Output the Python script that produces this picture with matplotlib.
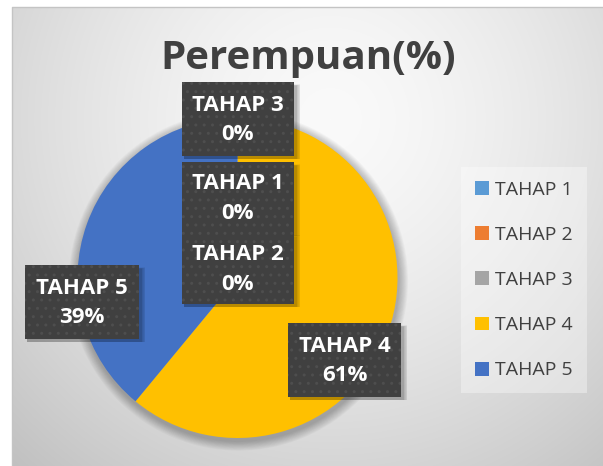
import numpy as np
import matplotlib
matplotlib.use("Agg")
import matplotlib.pyplot as plt
from matplotlib.patches import Rectangle, Circle

# --- data ---
categories = ['TAHAP 1', 'TAHAP 2', 'TAHAP 3', 'TAHAP 4', 'TAHAP 5']
values = [0, 0, 0, 61, 39]
colors = ['#5B9BD5', '#ED7D31', '#A5A5A5', '#FFC000', '#4472C4']
title = 'Perempuan(%)'

plt.rcParams['font.family'] = ['Open Sans', 'DejaVu Sans']

W, H = 603, 466
fig = plt.figure(figsize=(W / 100, H / 100), dpi=100)
fig.patch.set_facecolor('white')
ax = fig.add_axes([0, 0, 1, 1])

# chart area background (radial gradient, Excel style)
x0, y0 = 12, 0          # left / bottom of chart area (pixels, y up)
x1, y1 = W, H - 7
gx, gy = np.meshgrid(np.arange(x0, x1), np.arange(y0, y1))
d = np.hypot(gx - 330, gy - (H - 120))
grad = 250 - 58 * (d / 470) ** 1.5
grad = np.clip(grad, 0, 255) / 255
ax.imshow(np.dstack([grad] * 3), extent=(x0, x1, y0, y1), origin='lower',
          zorder=0, interpolation='bilinear')
ax.plot([x0, x0, x1], [y0, y1, y1], color='#c4c4c4', lw=1, zorder=1)

# pie
cx, cy, R = 237.5, H - 278, 160
for k in range(12, 0, -1):
    ax.add_patch(Circle((cx + 1, cy - 3), R + k * 0.8, color='black',
                        alpha=0.025, lw=0, zorder=1.5))
wedges, _ = ax.pie(values, colors=colors, startangle=90, counterclock=False,
                   center=(cx, cy), radius=R, wedgeprops=dict(linewidth=0))
for w in wedges:
    w.set_zorder(2)

# data label boxes (left, top, right, bottom in pixels from top-left)
label_boxes = {
    2: (182, 82, 294, 156),
    0: (182, 162, 294, 233),
    1: (182, 233, 294, 304),
    4: (25, 265, 139, 339),
    3: (288, 323, 401, 397),
}
total = sum(values)
for i, (l, t, r, b) in label_boxes.items():
    bw, bh = r - l, b - t
    yb = H - b
    for k in range(6, 0, -1):
        ax.add_patch(Rectangle((l + 2, yb - 3), bw + k * 0.7, bh + k * 0.3 - 1,
                               color='black', alpha=0.05, lw=0, zorder=3))
    ax.add_patch(Rectangle((l, yb), bw, bh, facecolor='#404040',
                           edgecolor='#4e4e4e', hatch='..', lw=0, zorder=4))
    ax.text((l + r) / 2, yb + bh / 2 - 1,
            f"{categories[i]}\n{values[i] / total * 100:.0f}%",
            ha='center', va='center', color='white', fontsize=16,
            fontweight='bold', linespacing=1.55, zorder=5)

# legend
leg = ax.legend(wedges, categories, loc='upper left',
                bbox_to_anchor=(461 / W, 1 - 167 / H), bbox_transform=fig.transFigure,
                frameon=True, fontsize=14, labelspacing=1.4,
                handlelength=0.72, handleheight=0.72, handletextpad=0.35,
                borderpad=0.7, borderaxespad=0, fancybox=False)
leg.get_frame().set_facecolor('white')
leg.get_frame().set_alpha(0.35)
leg.get_frame().set_linewidth(0)
for txt in leg.get_texts():
    txt.set_color('#404040')
leg.set_zorder(6)

ax.text(308.5, H - 58, title, ha='center', va='center', fontsize=29,
        fontweight='bold', color='#404040', zorder=5)

ax.set_xlim(0, W)
ax.set_ylim(0, H)
ax.set_aspect('auto')
ax.axis('off')

fig.savefig('out.png', dpi=100)
